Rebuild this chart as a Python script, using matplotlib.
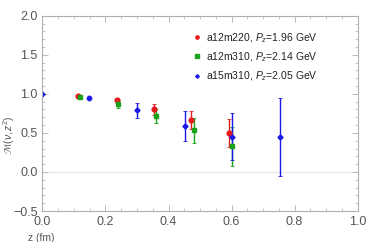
import matplotlib
matplotlib.use("Agg")
import matplotlib.pyplot as plt
from matplotlib.ticker import MultipleLocator

plt.rcParams['font.family'] = ['Liberation Sans', 'DejaVu Sans']
plt.rcParams['mathtext.fontset'] = 'custom'
plt.rcParams['mathtext.it'] = 'Liberation Sans:italic'
plt.rcParams['mathtext.rm'] = 'Liberation Sans'

labels = ["a12m220, $P_z$=1.96 GeV", "a12m310, $P_z$=2.14 GeV", "a15m310, $P_z$=2.05 GeV"]
colors = ["#e41a1c", "#1aa31a", "#1a1ae6"]
markers = ["o", "s", "D"]
msizes = [3.4, 3.4, 2.6]

z_a12m220 = [0.114, 0.235, 0.353, 0.472, 0.592]
m_a12m220 = [0.97, 0.915, 0.80, 0.664, 0.498]
e_a12m220 = [0.02, 0.03, 0.075, 0.117, 0.175]

z_a12m310 = [0.119, 0.240, 0.361, 0.482, 0.603]
m_a12m310 = [0.965, 0.865, 0.716, 0.532, 0.33]
e_a12m310 = [0.02, 0.05, 0.09, 0.16, 0.25]

z_a15m310 = [0.0, 0.149, 0.301, 0.452, 0.603, 0.755]
m_a15m310 = [1.0, 0.945, 0.788, 0.59, 0.45, 0.443]
e_a15m310 = [0.0, 0.03, 0.094, 0.19, 0.30, 0.50]

fig = plt.figure(figsize=(3.74, 2.42), dpi=100)
ax = fig.add_axes([0.1136, 0.128, 0.8424, 0.807])

series = [(z_a12m220, m_a12m220, e_a12m220), (z_a12m310, m_a12m310, e_a12m310), (z_a15m310, m_a15m310, e_a15m310)]
handles = []
for (z, m, e), c, mk, ms, lab in zip(series, colors, markers, msizes, labels):
    h = ax.errorbar(z, m, yerr=e, fmt=mk, color=c, ms=ms, elinewidth=1.0, capsize=1.5, capthick=0.6, label=lab)
    handles.append(h)

ax.axhline(0, color="#e6e6e6", lw=0.8, zorder=0)
ax.set_xlim(0, 1.0)
ax.set_ylim(-0.5, 2.0)
ax.xaxis.set_major_locator(MultipleLocator(0.2))
ax.xaxis.set_minor_locator(MultipleLocator(0.05))
ax.yaxis.set_major_locator(MultipleLocator(0.5))
ax.yaxis.set_minor_locator(MultipleLocator(0.1))
ax.tick_params(which='both', direction='in', top=True, right=True, color='#b0b0b0', labelcolor='#555555', labelsize=9)
ax.tick_params(which='major', length=4, width=0.6)
ax.tick_params(which='minor', length=2, width=0.5)
for s in ax.spines.values():
    s.set_color('#b0b0b0')
    s.set_linewidth(0.8)
ax.set_xlabel("z (fm)", fontsize=7.5, color='#555555')
ax.xaxis.set_label_coords(-0.045, -0.11)
ax.xaxis.label.set_ha('left')
ax.set_ylabel(r"$\mathcal{M}(\nu, z^2)$", fontsize=7.5, color='#555555')
ax.yaxis.set_label_coords(-0.08, 0.39)

leg = ax.legend(handles=[h[0] for h in handles], labels=labels, loc='upper left', bbox_to_anchor=(0.45, 0.97),
                frameon=False, fontsize=7.5, handlelength=0.6, handletextpad=0.6, labelspacing=0.55, markerscale=0.7)
for t in leg.get_texts():
    t.set_color('#222222')

fig.savefig("out.png", dpi=100)
